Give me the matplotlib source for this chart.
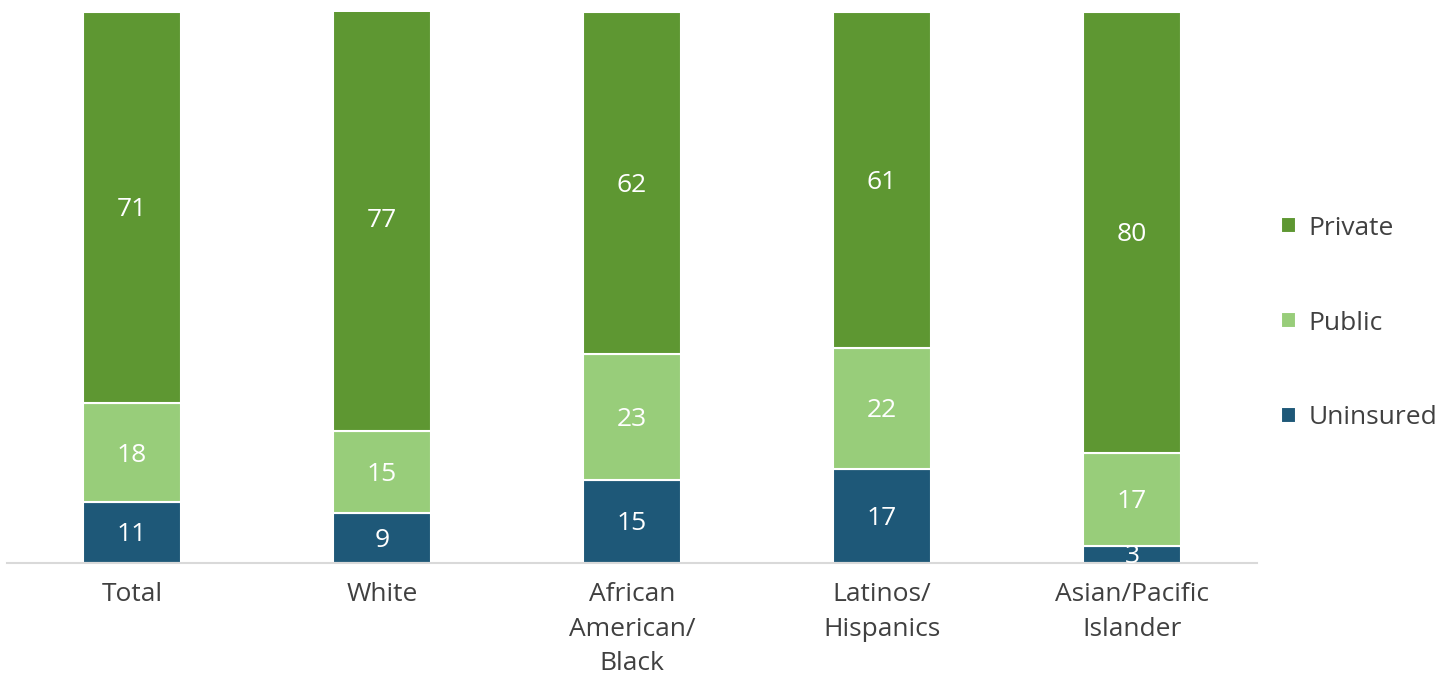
import matplotlib
matplotlib.use("Agg")
import matplotlib.pyplot as plt
import numpy as np

plt.rcParams['font.family'] = ['Open Sans', 'DejaVu Sans']

categories = ["Total", "White", "African\nAmerican/\nBlack", "Latinos/\nHispanics", "Asian/Pacific\nIslander"]
uninsured = [11, 9, 15, 17, 3]
public = [18, 15, 23, 22, 17]
private = [71, 77, 62, 61, 80]

colors = {"Private": "#5E9732", "Public": "#98CD7A", "Uninsured": "#1E5878"}

W, H = 1449, 684
fig = plt.figure(figsize=(W / 100, H / 100), dpi=100)
ax = fig.add_axes([7 / W, (H - 563) / H, (1257 - 7) / W, (563 - 12) / H])

x = np.arange(len(categories))
width = 0.39
series = [("Uninsured", uninsured), ("Public", public), ("Private", private)]
bottom = np.zeros(len(categories))
handles = {}
for name, vals in series:
    vals = np.array(vals, dtype=float)
    bars = ax.bar(x, vals, width, bottom=bottom, color=colors[name],
                  edgecolor="white", linewidth=1.5, label=name, zorder=2)
    handles[name] = bars
    for xi, b, v in zip(x, bottom, vals):
        ax.text(xi, b + v / 2 - 0.4, f"{int(v)}", ha="center", va="center",
                color="white", fontsize=19, zorder=3)
    bottom += vals

ax.set_xlim(-0.5, 4.5)
ax.set_ylim(0, 100)
ax.set_yticks([])
for s in ["top", "right", "left"]:
    ax.spines[s].set_visible(False)
ax.spines["bottom"].set_color("#d9d9d9")
ax.spines["bottom"].set_linewidth(1.5)
ax.set_xticks(x)
ax.set_xticklabels(categories, fontsize=19, color="#404040", linespacing=1.5)
ax.tick_params(axis="x", length=0, pad=14)

leg = fig.legend([handles["Private"], handles["Public"], handles["Uninsured"]],
                 ["Private", "Public", "Uninsured"],
                 loc="center left", bbox_to_anchor=(1281 / W, (H - 323) / H),
                 frameon=False, fontsize=19, handlelength=0.55, handleheight=0.55,
                 handletextpad=0.5, labelspacing=2.65, labelcolor="#404040",
                 borderpad=0, borderaxespad=0)

fig.savefig("out.png", dpi=100)
